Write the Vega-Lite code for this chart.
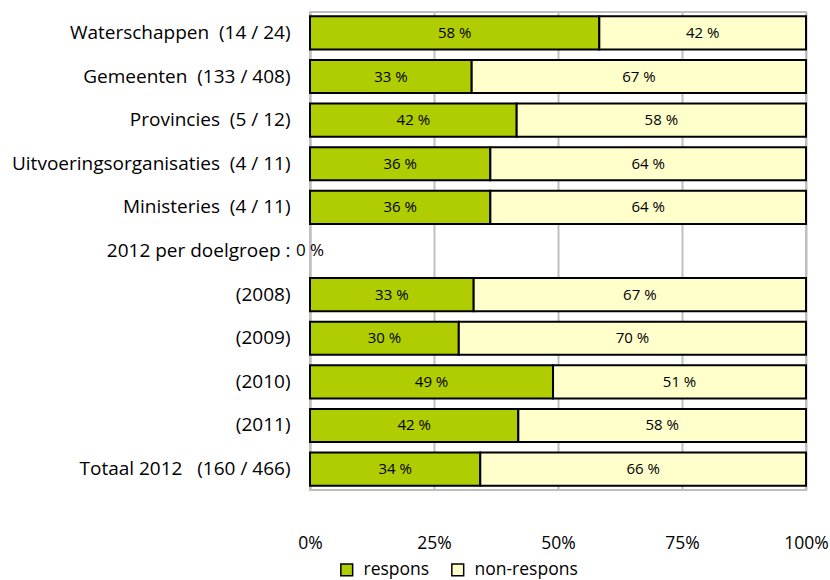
{
  "$schema": "https://vega.github.io/schema/vega-lite/v6.json",
  "width": 496,
  "height": 478,
  "autosize": "none",
  "padding": {"left": 310, "top": 12, "right": 24, "bottom": 90},
  "background": "white",
  "config": {
    "font": "Open Sans",
    "view": {"stroke": "#bfbfbf", "strokeWidth": 2},
    "axis": {"labelFont": "Open Sans", "labelColor": "#000000"}
  },
  "data": {
    "values": [
      {"cat": "Waterschappen\u00a0 (14 / 24)", "serie": "respons", "pct": 58.33, "label": "58 %", "o": 1},
      {"cat": "Waterschappen\u00a0 (14 / 24)", "serie": "non-respons", "pct": 41.67, "label": "42 %", "o": 2},
      {"cat": "Gemeenten\u00a0 (133 / 408)", "serie": "respons", "pct": 32.6, "label": "33 %", "o": 1},
      {"cat": "Gemeenten\u00a0 (133 / 408)", "serie": "non-respons", "pct": 67.4, "label": "67 %", "o": 2},
      {"cat": "Provincies\u00a0 (5 / 12)", "serie": "respons", "pct": 41.67, "label": "42 %", "o": 1},
      {"cat": "Provincies\u00a0 (5 / 12)", "serie": "non-respons", "pct": 58.33, "label": "58 %", "o": 2},
      {"cat": "Uitvoeringsorganisaties\u00a0 (4 / 11)", "serie": "respons", "pct": 36.36, "label": "36 %", "o": 1},
      {"cat": "Uitvoeringsorganisaties\u00a0 (4 / 11)", "serie": "non-respons", "pct": 63.64, "label": "64 %", "o": 2},
      {"cat": "Ministeries\u00a0 (4 / 11)", "serie": "respons", "pct": 36.36, "label": "36 %", "o": 1},
      {"cat": "Ministeries\u00a0 (4 / 11)", "serie": "non-respons", "pct": 63.64, "label": "64 %", "o": 2},
      {"cat": "(2008)", "serie": "respons", "pct": 33, "label": "33 %", "o": 1},
      {"cat": "(2008)", "serie": "non-respons", "pct": 67, "label": "67 %", "o": 2},
      {"cat": "(2009)", "serie": "respons", "pct": 30, "label": "30 %", "o": 1},
      {"cat": "(2009)", "serie": "non-respons", "pct": 70, "label": "70 %", "o": 2},
      {"cat": "(2010)", "serie": "respons", "pct": 49, "label": "49 %", "o": 1},
      {"cat": "(2010)", "serie": "non-respons", "pct": 51, "label": "51 %", "o": 2},
      {"cat": "(2011)", "serie": "respons", "pct": 42, "label": "42 %", "o": 1},
      {"cat": "(2011)", "serie": "non-respons", "pct": 58, "label": "58 %", "o": 2},
      {"cat": "Totaal 2012\u00a0\u00a0 (160 / 466)", "serie": "respons", "pct": 34.33, "label": "34 %", "o": 1},
      {"cat": "Totaal 2012\u00a0\u00a0 (160 / 466)", "serie": "non-respons", "pct": 65.67, "label": "66 %", "o": 2}
    ]
  },
  "transform": [
    {"stack": "pct", "groupby": ["cat"], "sort": [{"field": "o", "order": "ascending"}], "as": ["x0", "x1"]},
    {"calculate": "(datum.x0 + datum.x1) / 2", "as": "xm"}
  ],
  "encoding": {
    "y": {
      "field": "cat",
      "type": "nominal",
      "sort": ["Waterschappen\u00a0 (14 / 24)", "Gemeenten\u00a0 (133 / 408)", "Provincies\u00a0 (5 / 12)", "Uitvoeringsorganisaties\u00a0 (4 / 11)", "Ministeries\u00a0 (4 / 11)", "2012 per doelgroep :", "(2008)", "(2009)", "(2010)", "(2011)", "Totaal 2012\u00a0\u00a0 (160 / 466)"],
      "scale": {
        "domain": ["Waterschappen\u00a0 (14 / 24)", "Gemeenten\u00a0 (133 / 408)", "Provincies\u00a0 (5 / 12)", "Uitvoeringsorganisaties\u00a0 (4 / 11)", "Ministeries\u00a0 (4 / 11)", "2012 per doelgroep :", "(2008)", "(2009)", "(2010)", "(2011)", "Totaal 2012\u00a0\u00a0 (160 / 466)"],
        "paddingInner": 0.24,
        "paddingOuter": 0.1
      },
      "axis": {
        "title": null,
        "labelFontSize": 19,
        "labelPadding": 20,
        "labelLimit": 400,
        "ticks": false,
        "domain": true,
        "domainColor": "#bfbfbf",
        "domainWidth": 2,
        "grid": false
      }
    }
  },
  "layer": [
    {
      "mark": {"type": "bar", "stroke": "#000000", "strokeWidth": 2},
      "encoding": {
        "x": {
          "field": "x0",
          "type": "quantitative",
          "scale": {"domain": [0, 100], "nice": false},
          "axis": {
            "title": null,
            "values": [0, 25, 50, 75, 100],
            "labelExpr": "datum.value + '%'",
            "labelFontSize": 17.5,
            "labelPadding": 44,
            "labelFlush": false,
            "labelOverlap": false,
            "ticks": false,
            "domain": false,
            "grid": true,
            "gridColor": "#bfbfbf",
            "gridWidth": 2
          }
        },
        "x2": {"field": "x1"},
        "fill": {
          "field": "serie",
          "type": "nominal",
          "scale": {"domain": ["respons", "non-respons"], "range": ["#afcd00", "#ffffcc"]},
          "legend": {
            "title": null,
            "orient": "none",
            "legendX": 28,
            "legendY": 549,
            "direction": "horizontal",
            "columns": 2,
            "symbolType": "square",
            "symbolSize": 140,
            "symbolStrokeColor": "#000000",
            "symbolStrokeWidth": 1.5,
            "labelFontSize": 17.5,
            "labelFont": "Open Sans",
            "labelOffset": 8,
            "columnPadding": 18
          }
        }
      }
    },
    {
      "mark": {"type": "text", "fontSize": 15, "color": "#000000"},
      "encoding": {
        "x": {"field": "xm", "type": "quantitative"},
        "text": {"field": "label"}
      }
    },
    {
      "data": {"values": [{"cat": "2012 per doelgroep :", "v": 0, "label": "0 %"}]},
      "transform": [],
      "mark": {"type": "text", "fontSize": 17, "color": "#000000", "align": "center", "dx": 0},
      "encoding": {
        "x": {"field": "v", "type": "quantitative"},
        "text": {"field": "label"}
      }
    }
  ]
}
